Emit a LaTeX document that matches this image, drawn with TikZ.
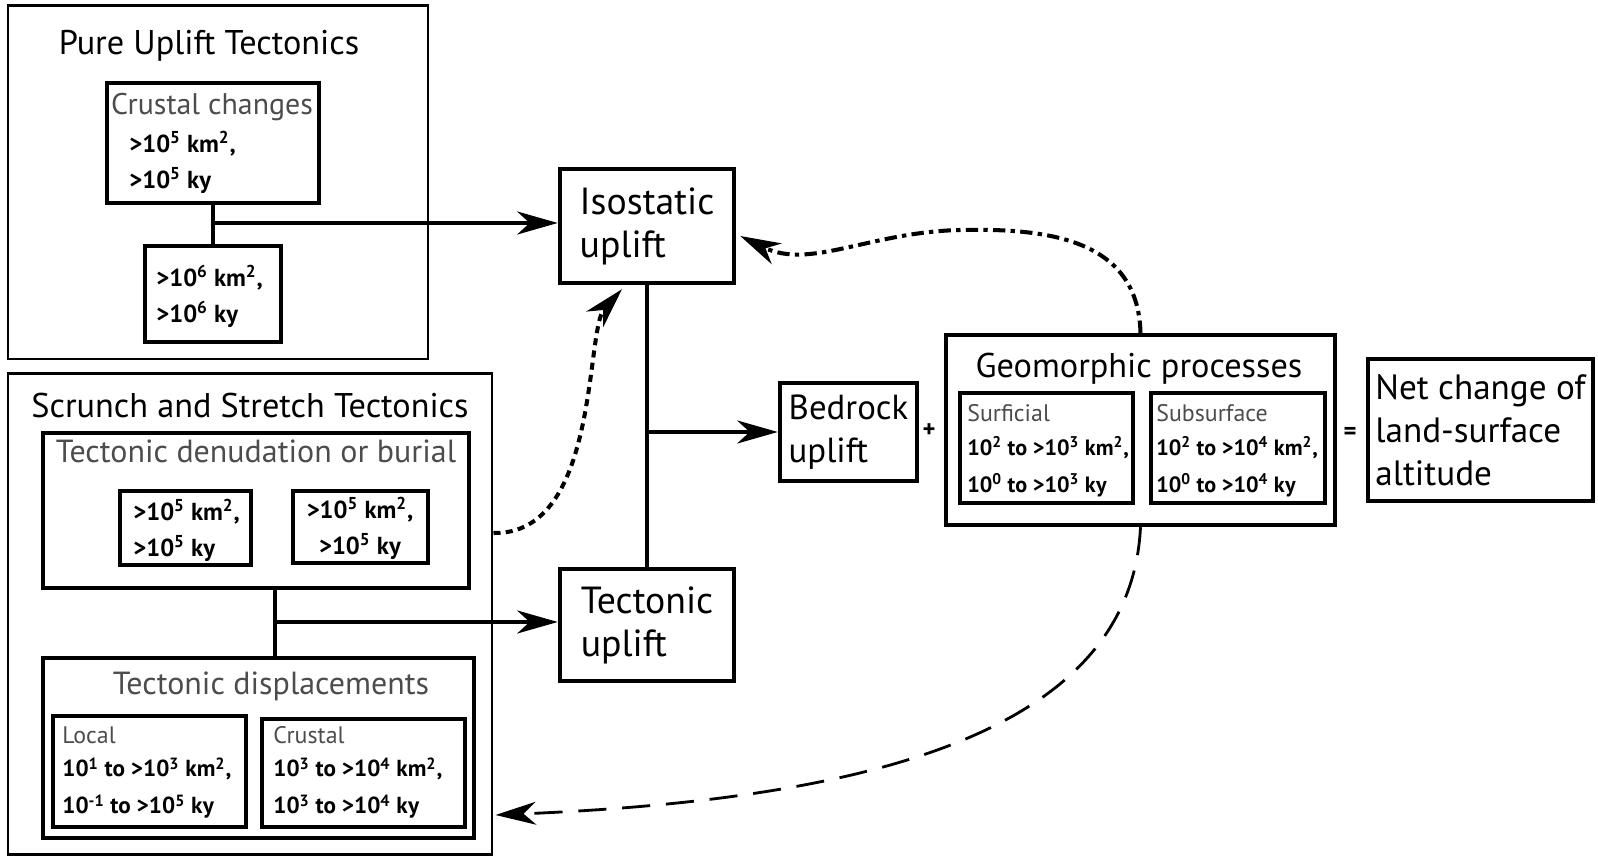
\documentclass[tikz,border=0pt]{standalone}
\usepackage{fontspec}
\setmainfont{PT Sans}
\usetikzlibrary{arrows.meta,calc}

\newcommand{\sq}[1]{\textsuperscript{#1}}

\tikzset{
    frame/.style={draw, line width=1.7pt, inner sep=0pt},
    box/.style={draw, line width=2.5pt, inner sep=0pt},
    wh/.style 2 args={minimum width=#1*0.2mm, minimum height=#2*0.2mm},
    link/.style={line width=2.8pt},
    head/.style={-{Stealth[length=23pt,width=13pt,inset=7pt]}},
    dotline/.style={line width=2.3pt, dash pattern=on 4pt off 3pt},
    dashdotline/.style={line width=2.3pt, dash pattern=on 7pt off 3pt on 2.5pt off 3pt},
    longdash/.style={line width=1.6pt, dash pattern=on 16pt off 9pt},
    title/.style={inner sep=0pt, font=\fontsize{19.5}{22}\selectfont},
    big/.style={align=left, inner sep=0pt, font=\fontsize{21.5}{24.5}\selectfont},
    nums/.style={align=left, inner sep=0pt, font=\fontsize{14}{20.5}\selectfont\bfseries},
    numsm/.style={align=left, inner sep=0pt, font=\fontsize{13.2}{21}\selectfont\bfseries},
    sub/.style={inner sep=0pt, text=black!70, font=\fontsize{18.2}{20}\selectfont},
    tag/.style={inner sep=0pt, text=black!70, font=\fontsize{13.6}{15}\selectfont},
}

\begin{document}
\begin{tikzpicture}[x=0.2mm, y=-0.2mm]
    \useasboundingbox (0,0) rectangle (1598,856);

    % Pure uplift tectonics
    \node[frame, wh={420}{353}] (pure) at (218,182.5) {};
    \node[title] (puret) at (209,46) {Pure Uplift Tectonics};
    \node[box, wh={212}{120}] (crust) at (213,143) {};
    \node[sub, font=\fontsize{17}{20}\selectfont] (crustt) at (212,107) {Crustal changes};
    \node[nums, anchor=west] (crustn) at (129,162) {>10\sq{5} km\sq{2},\\>10\sq{5} ky};
    \node[box, wh={136}{96}] (crustsix) at (213,294) {};
    \node[nums, anchor=west] (crustsixn) at (156,296) {>10\sq{6} km\sq{2},\\>10\sq{6} ky};

    % Scrunch and stretch tectonics
    \node[frame, wh={484}{481}] (scr) at (250,614) {};
    \node[title] (scrt) at (250,406) {Scrunch and Stretch Tectonics};
    \node[box, wh={426}{155}] (den) at (256,510.5) {};
    \node[sub] (dent) at (256,451) {Tectonic denudation or burial};
    \node[box, wh={131}{74}] (dena) at (185.5,528) {};
    \node[nums, anchor=west] (denan) at (133,530) {>10\sq{5} km\sq{2},\\>10\sq{5} ky};
    \node[box, wh={135}{72}] (denb) at (360.5,527) {};
    \node[nums, align=center] (denbn) at (360,528) {>10\sq{5} km\sq{2},\\>10\sq{5} ky};
    \node[box, wh={431}{180}] (disp) at (258.5,748) {};
    \node[sub] (dispt) at (271,686) {Tectonic displacements};
    \node[box, wh={193}{111}] (loc) at (149.5,771.5) {};
    \node[tag, anchor=west] (loct) at (62,735) {Local};
    \node[numsm, anchor=west] (locn) at (62,788) {10\sq{1} to >10\sq{3} km\sq{2},\\10\sq{-1} to >10\sq{5} ky};
    \node[box, wh={203}{108}] (cru) at (363.5,773) {};
    \node[tag, anchor=west] (crut) at (273,735) {Crustal};
    \node[numsm, anchor=west] (crun) at (273,788) {10\sq{3} to >10\sq{4} km\sq{2},\\10\sq{3} to >10\sq{4} ky};

    % Uplift
    \node[box, big, wh={174}{114}] (iso) at (647,226) {Isostatic\\uplift};
    \node[box, big, wh={174}{112}] (tect) at (647,625) {Tectonic\\uplift};
    \node[box, big, font=\fontsize{19.8}{24.5}\selectfont, wh={137}{98}] (bed) at (848.5,432) {Bedrock\\uplift};
    \node[nums] (plus) at (929,431) {+};

    % Geomorphic processes
    \node[box, wh={389}{190}] (geo) at (1140.5,430) {};
    \node[title] (geot) at (1139,369) {Geomorphic processes};
    \node[box, wh={173}{110}] (surf) at (1046.5,448) {};
    \node[tag, anchor=west] (surft) at (967,413) {Surficial};
    \node[numsm, font=\fontsize{12.6}{21}\selectfont\bfseries, anchor=west] (surfn) at (967,467) {10\sq{2} to >10\sq{3} km\sq{2},\\10\sq{0} to >10\sq{3} ky};
    \node[box, wh={174}{110}] (subs) at (1238,448) {};
    \node[tag, anchor=west] (subst) at (1156,413) {Subsurface};
    \node[numsm, font=\fontsize{12.6}{21}\selectfont\bfseries, anchor=west] (subsn) at (1156,467) {10\sq{2} to >10\sq{4} km\sq{2},\\10\sq{0} to >10\sq{4} ky};
    \node[nums] (equals) at (1350,433) {=};
    \node[box, big, font=\fontsize{20}{24.5}\selectfont, wh={225}{142}] (net) at (1480.5,430) {Net change of\\land-surface\\altitude};

    % Solid connectors
    \coordinate (jpure) at (213,223);
    \coordinate (jscr) at (275,622);
    \draw[link] (crust.south) -- (crustsix.north);
    \draw[link, head] (jpure) -- (jpure -| iso.west);
    \draw[link] (jscr |- den.south) -- (jscr |- disp.north);
    \draw[link, head] (jscr) -- (jscr -| tect.west);
    \draw[link] (iso.south) -- (tect.north);
    \draw[link, head] (iso.south |- bed.west) -- (bed.west);

    % Feedback curves
    \draw[dotline, head] ($(scr.east)+(0,-81)$) .. controls (600,535) and (585,330) .. ($(iso.south)+(-25,4)$);
    \draw[dashdotline, head] (geo.north) .. controls (1138,240) and (1050,228) .. (960,230)
        .. controls (870,232) and (810,270) .. ($(iso.east)+(4,10)$);
    \draw[longdash, head] (geo.south) .. controls (1130,740) and (850,800) .. ($(scr.east)+(2,201)$);
\end{tikzpicture}
\end{document}
